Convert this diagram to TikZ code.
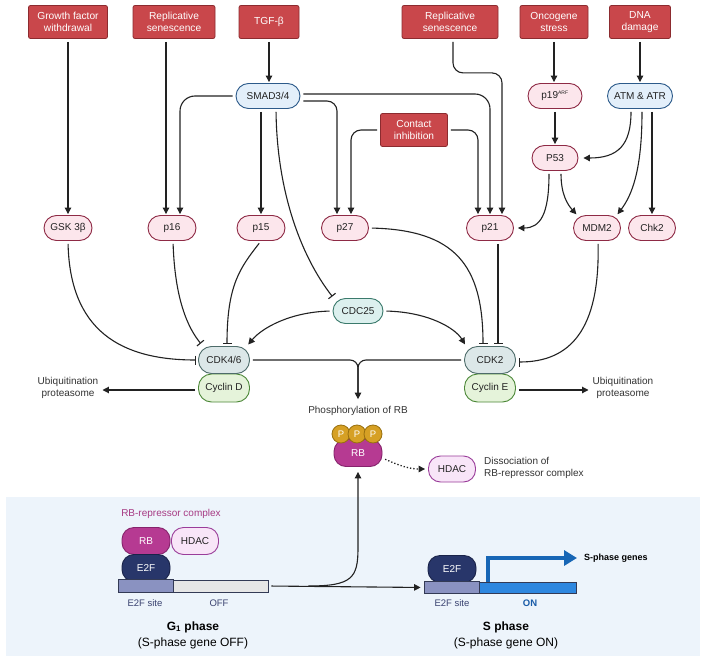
\documentclass[tikz,border=0pt]{standalone}
\usepackage{fontspec}
\setmainfont{Liberation Sans}
\usetikzlibrary{arrows.meta,calc}
\definecolor{redfill}{HTML}{C9474B}
\definecolor{redline}{HTML}{8C2B2F}
\definecolor{pinkfill}{HTML}{FCE6EC}
\definecolor{pinkline}{HTML}{8E2A45}
\definecolor{bluefill}{HTML}{E3EFFA}
\definecolor{blueline}{HTML}{2C5A8A}
\definecolor{tealfill}{HTML}{DCF0EE}
\definecolor{tealline}{HTML}{3B7A6C}
\definecolor{cdkfill}{HTML}{DCE7E8}
\definecolor{cdkline}{HTML}{4D6B69}
\definecolor{cycfill}{HTML}{E5F3DA}
\definecolor{cycline}{HTML}{4C8838}
\definecolor{pfill}{HTML}{D6A024}
\definecolor{pline}{HTML}{98700F}
\definecolor{rbfill}{HTML}{B63A92}
\definecolor{rbline}{HTML}{86236C}
\definecolor{hdfill}{HTML}{F8E5F8}
\definecolor{hdline}{HTML}{9A3D9A}
\definecolor{e2ffill}{HTML}{28366A}
\definecolor{e2fline}{HTML}{1A2349}
\definecolor{panel}{HTML}{EDF4FB}
\definecolor{sitefill}{HTML}{8A92C1}
\definecolor{offfill}{HTML}{E6E6E6}
\definecolor{onfill}{HTML}{2E87DF}
\definecolor{genearrow}{HTML}{1766B5}
\definecolor{ink}{HTML}{222222}
\definecolor{rbtext}{HTML}{A63A83}
\definecolor{graytext}{HTML}{333333}
\definecolor{sitetext}{HTML}{3A4270}
\definecolor{barline}{HTML}{333A55}
\definecolor{ontext}{HTML}{1A5CA8}
\begin{document}
\begin{tikzpicture}[x=1pt,y=-1pt,
  cause/.style={draw=redline, fill=redfill, text=white, line width=0.8pt, rounded corners=2pt,
    minimum height=33pt, align=center, font=\fontsize{10.2}{11.5}\selectfont, inner sep=1pt},
  pill/.style={line width=0.9pt, rounded corners=12.5pt, minimum height=25pt,
    font=\fontsize{10}{11}\selectfont, inner sep=1pt, text=ink},
  prot/.style={pill, draw=pinkline, fill=pinkfill},
  kin/.style={pill, draw=blueline, fill=bluefill},
  cdc/.style={pill, draw=tealline, fill=tealfill},
  cdk/.style={pill, draw=cdkline, fill=cdkfill, minimum width=51pt, minimum height=27pt, rounded corners=13pt},
  cyc/.style={pill, draw=cycline, fill=cycfill, minimum width=51pt, minimum height=28pt, rounded corners=13pt},
  rbst/.style={pill, draw=rbline, fill=rbfill, text=white, minimum width=48pt, minimum height=27pt, rounded corners=12pt},
  hdst/.style={pill, draw=hdline, fill=hdfill, minimum width=47pt, minimum height=27pt, rounded corners=12pt},
  e2fst/.style={pill, draw=e2fline, fill=e2ffill, text=white, minimum width=48pt, minimum height=27pt, rounded corners=12pt},
  pst/.style={circle, draw=pline, fill=pfill, line width=0.8pt, minimum size=18pt, inner sep=0pt,
    text=white, font=\fontsize{9.5}{10}\selectfont},
  lbl/.style={text=graytext, font=\fontsize{10}{12}\selectfont, inner sep=1pt, align=center},
  arr/.style={draw=ink, line width=1.1pt, -{Triangle[length=6.5pt,width=6.5pt]}, shorten <=3pt, shorten >=1pt},
  inh/.style={draw=ink, line width=1.1pt, -{Bar[width=9pt,line width=1.1pt]}, shorten <=3pt, shorten >=2pt},
  dotarr/.style={draw=ink, line width=1.3pt, dash pattern=on 1.3pt off 2pt, -{Triangle[length=6.5pt,width=6.5pt]}, shorten <=3pt, shorten >=3pt}
]
\useasboundingbox (0,0) rectangle (706,658);
\fill[white] (0,0) rectangle (706,658);
\fill[panel] (6,497) rectangle (700,656);

% top causes
\node[cause, minimum width=79pt] (gfw) at (68,22) {Growth factor\\withdrawal};
\node[cause, minimum width=82pt] (rs1) at (174,22) {Replicative\\senescence};
\node[cause, minimum width=60pt] (tgf) at (269,22) {TGF-β};
\node[cause, minimum width=96pt] (rs2) at (450,22) {Replicative\\senescence};
\node[cause, minimum width=68pt] (onc) at (554,22) {Oncogene\\stress};
\node[cause, minimum width=61pt] (dna) at (640,22) {DNA\\damage};
\node[cause, minimum width=67pt] (cont) at (414,130) {Contact\\inhibition};

% proteins
\node[kin, minimum width=64pt] (smad) at (268,96) {SMAD3/4};
\node[prot, minimum width=54pt] (p19) at (555,96) {p19\textsuperscript{\fontsize{5}{6}\selectfont ARF}};
\node[kin, minimum width=65pt] (atm) at (640,96) {ATM \& ATR};
\node[prot, minimum width=46pt] (p53) at (555,158) {P53};
\node[prot, minimum width=48pt] (gsk) at (68,228) {GSK 3β};
\node[prot, minimum width=48pt] (p16) at (172,228) {p16};
\node[prot, minimum width=48pt] (p15) at (261,228) {p15};
\node[prot, minimum width=47pt] (p27) at (345,228) {p27};
\node[prot, minimum width=47pt] (p21) at (490,228) {p21};
\node[prot, minimum width=47pt] (mdm2) at (597,228) {MDM2};
\node[prot, minimum width=47pt] (chk2) at (652,228) {Chk2};
\node[cdc, minimum width=50pt] (cdc25) at (358,311) {CDC25};

\node[cyc] (cycd) at (224,388) {Cyclin D};
\node[cdk] (cdk46) at (224,360) {CDK4/6};
\node[cyc] (cyce) at (490,388) {Cyclin E};
\node[cdk] (cdk2) at (490,360) {CDK2};

\node[lbl] (ubl) at (68,388) {Ubiquitination\\proteasome};
\node[lbl] (ubr) at (623,388) {Ubiquitination\\proteasome};
\node[lbl] (phos) at (358,411) {Phosphorylation of RB};

% phosphorylated RB
\node[rbst] (prb) at (358,453) {RB};
\node[pst] (pa) at (341,434) {P};
\node[pst] (pb) at (357,434) {P};
\node[pst] (pc) at (373,434) {P};
\node[hdst, minimum height=26pt] (hdd) at (452,469) {HDAC};
\node[lbl, anchor=west, align=left] (diss) at (483,468) {Dissociation of\\RB-repressor complex};

% G1 phase
\node[lbl, text=rbtext] (rbc) at (171,514) {RB-repressor complex};
\node[rbst] (rbg) at (146,541) {RB};
\node[hdst] (hdg) at (195,541) {HDAC};
\node[e2fst] (e2fg) at (146,568) {E2F};
\node[draw=barline, fill=offfill, line width=0.9pt, minimum width=149pt, minimum height=12pt, inner sep=0pt] (g1bar) at (193.5,586) {};
\filldraw[fill=sitefill, draw=barline, line width=0.9pt] (g1bar.north west) rectangle (173,592);
\node[lbl, text=sitetext, font=\fontsize{9.5}{11}\selectfont] (g1site) at (145,603) {E2F site};
\node[lbl, text=sitetext, font=\fontsize{9.5}{11}\selectfont] (g1off) at (219,603) {OFF};
\node[lbl, text=black, font=\bfseries\fontsize{12}{14}\selectfont] (g1t) at (193,627) {G\textsubscript{1} phase};
\node[lbl, text=black, font=\fontsize{12}{14}\selectfont] (g1s) at (193,643) {(S-phase gene OFF)};

% S phase
\node[e2fst] (e2fs) at (452,569) {E2F};
\node[draw=barline, fill=onfill, line width=0.9pt, minimum width=151pt, minimum height=11pt, inner sep=0pt] (sbar) at (500.5,587.5) {};
\filldraw[fill=sitefill, draw=barline, line width=0.9pt] (sbar.north west) rectangle (479,593);
\node[lbl, text=sitetext, font=\fontsize{9.5}{11}\selectfont] (ssite) at (452,603) {E2F site};
\node[lbl, text=ontext, font=\bfseries\fontsize{9.5}{11}\selectfont] (son) at (530,603) {ON};
\node[lbl, text=black, font=\bfseries\fontsize{12}{14}\selectfont] (st) at (506,627) {S phase};
\node[lbl, text=black, font=\fontsize{12}{14}\selectfont] (ss) at (506,643) {(S-phase gene ON)};
\coordinate (gs) at (488,581.5);
\coordinate (ge) at (577,558);
\draw[genearrow, line width=3.5pt, -{Triangle[length=13pt,width=15pt]}] (gs) |- (ge);
\node[lbl, text=black, anchor=west, font=\bfseries\fontsize{9}{10}\selectfont] (sgenes) at (583,558) {S-phase genes};

% connectors top
\draw[arr] (gfw.south) -- (gsk.north);
\draw[arr] ([xshift=-8pt]rs1.south) -- ([xshift=-6pt]p16.north);
\draw[arr] (tgf.south) -- (tgf.south |- smad.north);
\draw[arr, rounded corners=15pt] (smad.west) -| ([xshift=8pt]p16.north);
\draw[arr] ([xshift=-7pt]smad.south) -- (p15.north);
\draw[inh] ([xshift=8pt]smad.south) .. controls (277,190) and (300,255) .. ([xshift=1pt]cdc25.north west);
\draw[arr, rounded corners=10pt] ([yshift=-5pt]smad.east) -| ([xshift=-8pt]p27.north);
\draw[arr, rounded corners=15pt] ([yshift=2pt]smad.east) -| (p21.north);
\draw[arr, rounded corners=10pt] (cont.west) -| ([xshift=6pt]p27.north);
\draw[arr, rounded corners=10pt] (cont.east) -| ([xshift=-12pt]p21.north);
\draw[arr, rounded corners=10pt] ([xshift=3pt]rs2.south) -- ++(0,34) -| ([xshift=12pt]p21.north);
\draw[arr] (onc.south) -- (onc.south |- p19.north);
\draw[arr] (dna.south) -- (atm.north);
\draw[arr] (p19.south) -- (p53.north);
\draw[arr, shorten >=5pt] ([xshift=-9pt]atm.south) .. controls (631,145) and (618,158) .. (p53.east);
\draw[arr] ([xshift=2pt]atm.south) .. controls (642,170) and (632,195) .. ([xshift=-4pt]mdm2.north east);
\draw[arr] ([xshift=12pt]atm.south) -- (chk2.north);
\draw[arr, shorten >=4pt] ([xshift=-6pt]p53.south) .. controls (549,215) and (540,228) .. (p21.east);
\draw[arr] ([xshift=6pt]p53.south) .. controls (561,195) and (568,205) .. ([xshift=4pt]mdm2.north west);

% connectors to CDKs
\draw[inh] (gsk.south) .. controls (70,330) and (120,360) .. (cdk46.west);
\draw[inh] ([xshift=1pt]p16.south) .. controls (175,300) and (188,328) .. ([xshift=4pt,yshift=1pt]cdk46.north west);
\draw[inh] (p15.south) .. controls (240,268) and (227,285) .. ([xshift=3pt]cdk46.north);
\draw[arr, shorten >=2pt] (cdc25.west) .. controls (290,312) and (262,328) .. ([xshift=-3pt]cdk46.north east);
\draw[arr, shorten >=2pt] (cdc25.east) .. controls (428,312) and (455,328) .. ([xshift=2pt]cdk2.north west);
\draw[inh] (p27.east) .. controls (455,230) and (483,265) .. ([xshift=-7pt]cdk2.north);
\draw[inh] ([xshift=8pt]p21.south) -- ([xshift=8pt]cdk2.north);
\draw[inh, shorten >=3pt] ([xshift=1pt]mdm2.south) .. controls (600,330) and (570,362) .. ([yshift=-2pt]cdk2.east);

% merge to phosphorylation
\draw[draw=ink, line width=1.1pt, rounded corners=8pt, shorten <=3pt, shorten >=10pt] (cdk2.west) -| (phos.north);
\draw[arr, rounded corners=8pt, shorten >=6pt] (cdk46.east) -| (phos.north);

% ubiquitination
\draw[arr, shorten >=3pt] ([yshift=-2pt]cycd.west) -- ([yshift=-2pt]ubl.east);
\draw[arr, shorten >=3pt] ([yshift=-2pt]cyce.east) -- ([yshift=-2pt]ubr.west);

% RB dissociation
\draw[dotarr] ([yshift=-5pt]prb.east) .. controls (400,466) and (410,469) .. (hdd.west);

% bottom arrows
\draw[arr, shorten >=4pt] (g1bar.east) -- (sbar.west);
\draw[arr, shorten <=0pt, shorten >=5pt] ($(g1bar.east)+(40,0)$) .. controls (352,586) and (358,578) .. (358,548) -- (prb.south);
\end{tikzpicture}
\end{document}
